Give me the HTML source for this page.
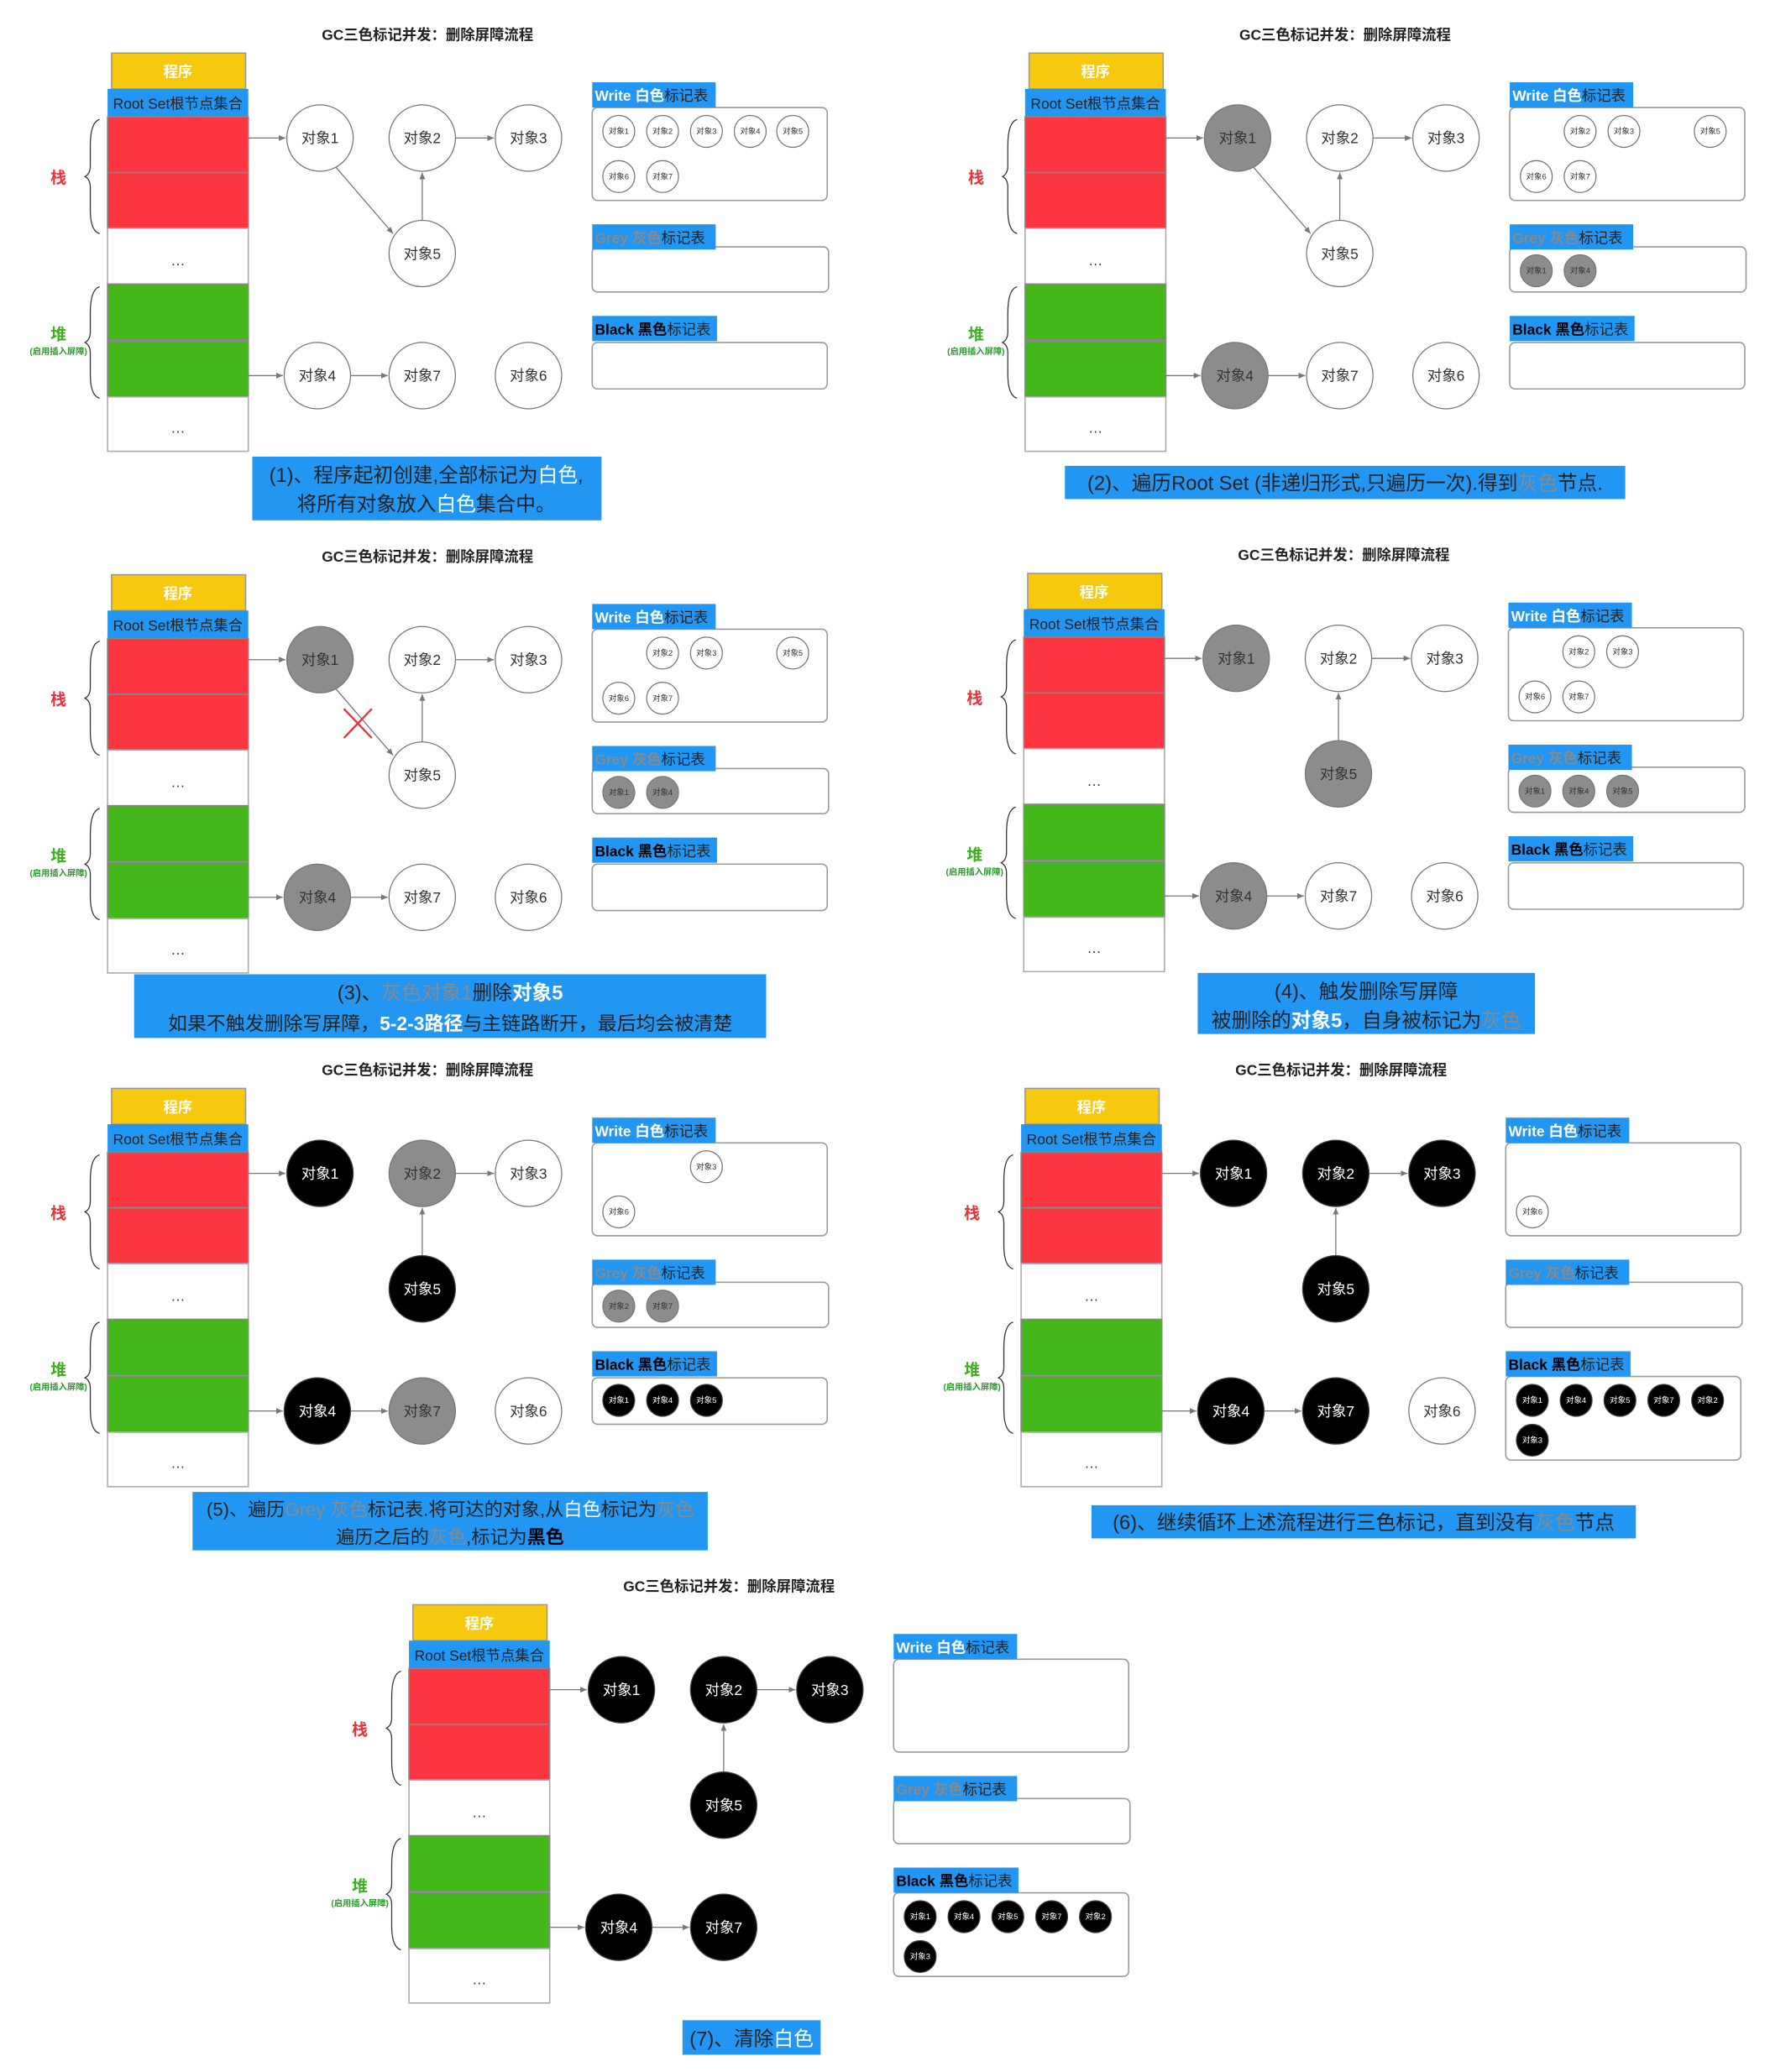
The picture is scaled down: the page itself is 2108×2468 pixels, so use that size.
<!DOCTYPE html>
<html><head><meta charset="utf-8"><style>
html,body{margin:0;padding:0;background:#fff;}
svg{display:block;font-family:"Liberation Sans","Noto Sans CJK SC",sans-serif;}
.t{font-size:11px;font-weight:bold;text-anchor:middle;fill:#222}
.n{font-size:11px;text-anchor:middle;fill:#333}
.s{font-size:6px;text-anchor:middle;fill:#333}
.w{fill:#fff;stroke:#777;stroke-width:.8}
.g{fill:#8c8c8c;stroke:#777;stroke-width:.8}
.b{fill:#000;stroke:#444;stroke-width:.8}
.wt{fill:#fff}
.e{stroke:#777;stroke-width:.8;fill:none;marker-end:url(#a)}
.box{fill:#fff;stroke:#999;stroke-width:1}
.lab{fill:#2196f3}
.lt{font-size:11px;font-weight:bold}
.cap{font-size:15px;fill:#222;text-anchor:middle}
</style></head><body>
<svg width="2108" height="2468" viewBox="0 0 1333 1561" preserveAspectRatio="none" xmlns="http://www.w3.org/2000/svg">
<defs><marker id="a" markerWidth="6" markerHeight="6" refX="5" refY="3" orient="auto" markerUnits="userSpaceOnUse"><path d="M0,0.8 L5,3 L0,5.2z" fill="#777"/></marker></defs>

<!-- PANEL 1 -->
<g>
<text class="t" x="322" y="30">GC三色标记并发：删除屏障流程</text>
<rect x="84" y="40" width="101" height="27" fill="#f6c90e" stroke="#999"/><text class="t" x="134" y="58" style="fill:#fff">程序</text>
<rect x="81" y="67" width="106" height="21" fill="#2196f3"/><text x="134" y="82" style="font-size:11px;text-anchor:middle;fill:#222">Root Set根节点集合</text>
<rect x="81" y="88" width="106" height="42" fill="#fb3640" stroke="#888"/><rect x="81" y="130" width="106" height="42" fill="#fb3640" stroke="#888"/>
<rect x="81" y="172" width="106" height="42" fill="#fff" stroke="#aaa"/><text x="134" y="200" class="n">…</text>
<rect x="81" y="214" width="106" height="42" fill="#44b81a" stroke="#888"/><rect x="81" y="257" width="106" height="42" fill="#44b81a" stroke="#888"/>
<rect x="81" y="299" width="106" height="41" fill="#fff" stroke="#aaa"/><text x="134" y="326" class="n">…</text>
<path d="M75,90 Q68,92 68,110 L68,125 Q68,131 64,133 Q68,135 68,141 L68,158 Q68,174 75,176" stroke="#333" fill="none" stroke-width=".8"/>
<path d="M75,216 Q68,218 68,236 L68,250 Q68,256 64,258 Q68,260 68,266 L68,282 Q68,298 75,300" stroke="#333" fill="none" stroke-width=".8"/>
<text x="44" y="138" style="font-size:12px;font-weight:bold;fill:#e8343c;text-anchor:middle">栈</text>
<text x="44" y="256" style="font-size:12px;font-weight:bold;fill:#3cb01d;text-anchor:middle">堆</text>
<text x="44" y="267" style="font-size:6.5px;font-weight:bold;fill:#2a9a2a;text-anchor:middle">(启用插入屏障)</text>
<line class="e" x1="187" y1="104" x2="215" y2="104"/><line class="e" x1="253" y1="126" x2="296" y2="176"/><line class="e" x1="318" y1="166" x2="318" y2="130"/><line class="e" x1="343" y1="104" x2="372" y2="104"/><line class="e" x1="187" y1="283" x2="213" y2="283"/><line class="e" x1="264" y1="283" x2="292" y2="283"/>
<circle class="w" cx="241" cy="104" r="25"/><text class="n" x="241" y="108">对象1</text>
<circle class="w" cx="318" cy="104" r="25"/><text class="n" x="318" y="108">对象2</text>
<circle class="w" cx="398" cy="104" r="25"/><text class="n" x="398" y="108">对象3</text>
<circle class="w" cx="318" cy="191" r="25"/><text class="n" x="318" y="195">对象5</text>
<circle class="w" cx="239" cy="283" r="25"/><text class="n" x="239" y="287">对象4</text>
<circle class="w" cx="318" cy="283" r="25"/><text class="n" x="318" y="287">对象7</text>
<circle class="w" cx="398" cy="283" r="25"/><text class="n" x="398" y="287">对象6</text>
<rect class="box" x="446" y="81" width="177" height="70" rx="4"/><rect class="lab" x="446" y="62" width="93" height="19"/><text class="lt" x="448" y="76"><tspan fill="#fff">Write 白色</tspan><tspan fill="#222" font-weight="normal">标记表</tspan></text>
<rect class="box" x="446" y="186" width="178" height="34" rx="4"/><rect class="lab" x="446" y="169" width="93" height="19"/><text class="lt" x="448" y="183"><tspan fill="#8a8a8a">Grey 灰色</tspan><tspan fill="#222" font-weight="normal">标记表</tspan></text>
<rect class="box" x="446" y="258" width="177" height="35" rx="4"/><rect class="lab" x="446" y="238" width="94" height="19"/><text class="lt" x="448" y="252"><tspan fill="#000">Black 黑色</tspan><tspan fill="#222" font-weight="normal">标记表</tspan></text>
<circle class="w" cx="466" cy="99" r="12"/><text class="s" x="466" y="101">对象1</text>
<circle class="w" cx="499" cy="99" r="12"/><text class="s" x="499" y="101">对象2</text>
<circle class="w" cx="532" cy="99" r="12"/><text class="s" x="532" y="101">对象3</text>
<circle class="w" cx="565" cy="99" r="12"/><text class="s" x="565" y="101">对象4</text>
<circle class="w" cx="597" cy="99" r="12"/><text class="s" x="597" y="101">对象5</text>
<circle class="w" cx="466" cy="133" r="12"/><text class="s" x="466" y="135">对象6</text>
<circle class="w" cx="499" cy="133" r="12"/><text class="s" x="499" y="135">对象7</text>
</g>

<!-- PANEL 2 -->
<g transform="translate(691,0)">
<text class="t" x="322" y="30">GC三色标记并发：删除屏障流程</text>
<rect x="84" y="40" width="101" height="27" fill="#f6c90e" stroke="#999"/><text class="t" x="134" y="58" style="fill:#fff">程序</text>
<rect x="81" y="67" width="106" height="21" fill="#2196f3"/><text x="134" y="82" style="font-size:11px;text-anchor:middle;fill:#222">Root Set根节点集合</text>
<rect x="81" y="88" width="106" height="42" fill="#fb3640" stroke="#888"/><rect x="81" y="130" width="106" height="42" fill="#fb3640" stroke="#888"/>
<rect x="81" y="172" width="106" height="42" fill="#fff" stroke="#aaa"/><text x="134" y="200" class="n">…</text>
<rect x="81" y="214" width="106" height="42" fill="#44b81a" stroke="#888"/><rect x="81" y="257" width="106" height="42" fill="#44b81a" stroke="#888"/>
<rect x="81" y="299" width="106" height="41" fill="#fff" stroke="#aaa"/><text x="134" y="326" class="n">…</text>
<path d="M75,90 Q68,92 68,110 L68,125 Q68,131 64,133 Q68,135 68,141 L68,158 Q68,174 75,176" stroke="#333" fill="none" stroke-width=".8"/>
<path d="M75,216 Q68,218 68,236 L68,250 Q68,256 64,258 Q68,260 68,266 L68,282 Q68,298 75,300" stroke="#333" fill="none" stroke-width=".8"/>
<text x="44" y="138" style="font-size:12px;font-weight:bold;fill:#e8343c;text-anchor:middle">栈</text>
<text x="44" y="256" style="font-size:12px;font-weight:bold;fill:#3cb01d;text-anchor:middle">堆</text>
<text x="44" y="267" style="font-size:6.5px;font-weight:bold;fill:#2a9a2a;text-anchor:middle">(启用插入屏障)</text>
<line class="e" x1="187" y1="104" x2="215" y2="104"/><line class="e" x1="253" y1="126" x2="296" y2="176"/><line class="e" x1="318" y1="166" x2="318" y2="130"/><line class="e" x1="343" y1="104" x2="372" y2="104"/><line class="e" x1="187" y1="283" x2="213" y2="283"/><line class="e" x1="264" y1="283" x2="292" y2="283"/>
<circle class="g" cx="241" cy="104" r="25"/><text class="n" x="241" y="108">对象1</text>
<circle class="w" cx="318" cy="104" r="25"/><text class="n" x="318" y="108">对象2</text>
<circle class="w" cx="398" cy="104" r="25"/><text class="n" x="398" y="108">对象3</text>
<circle class="w" cx="318" cy="191" r="25"/><text class="n" x="318" y="195">对象5</text>
<circle class="g" cx="239" cy="283" r="25"/><text class="n" x="239" y="287">对象4</text>
<circle class="w" cx="318" cy="283" r="25"/><text class="n" x="318" y="287">对象7</text>
<circle class="w" cx="398" cy="283" r="25"/><text class="n" x="398" y="287">对象6</text>
<rect class="box" x="446" y="81" width="177" height="70" rx="4"/><rect class="lab" x="446" y="62" width="93" height="19"/><text class="lt" x="448" y="76"><tspan fill="#fff">Write 白色</tspan><tspan fill="#222" font-weight="normal">标记表</tspan></text>
<rect class="box" x="446" y="186" width="178" height="34" rx="4"/><rect class="lab" x="446" y="169" width="93" height="19"/><text class="lt" x="448" y="183"><tspan fill="#8a8a8a">Grey 灰色</tspan><tspan fill="#222" font-weight="normal">标记表</tspan></text>
<rect class="box" x="446" y="258" width="177" height="35" rx="4"/><rect class="lab" x="446" y="238" width="94" height="19"/><text class="lt" x="448" y="252"><tspan fill="#000">Black 黑色</tspan><tspan fill="#222" font-weight="normal">标记表</tspan></text>
<circle class="w" cx="499" cy="99" r="12"/><text class="s" x="499" y="101">对象2</text>
<circle class="w" cx="532" cy="99" r="12"/><text class="s" x="532" y="101">对象3</text>
<circle class="w" cx="597" cy="99" r="12"/><text class="s" x="597" y="101">对象5</text>
<circle class="w" cx="466" cy="133" r="12"/><text class="s" x="466" y="135">对象6</text>
<circle class="w" cx="499" cy="133" r="12"/><text class="s" x="499" y="135">对象7</text>
<circle class="g" cx="466" cy="204" r="12"/><text class="s" x="466" y="206">对象1</text>
<circle class="g" cx="499" cy="204" r="12"/><text class="s" x="499" y="206">对象4</text>
</g>

<!-- PANEL 3 -->
<g transform="translate(0,393)">
<text class="t" x="322" y="30">GC三色标记并发：删除屏障流程</text>
<rect x="84" y="40" width="101" height="27" fill="#f6c90e" stroke="#999"/><text class="t" x="134" y="58" style="fill:#fff">程序</text>
<rect x="81" y="67" width="106" height="21" fill="#2196f3"/><text x="134" y="82" style="font-size:11px;text-anchor:middle;fill:#222">Root Set根节点集合</text>
<rect x="81" y="88" width="106" height="42" fill="#fb3640" stroke="#888"/><rect x="81" y="130" width="106" height="42" fill="#fb3640" stroke="#888"/>
<rect x="81" y="172" width="106" height="42" fill="#fff" stroke="#aaa"/><text x="134" y="200" class="n">…</text>
<rect x="81" y="214" width="106" height="42" fill="#44b81a" stroke="#888"/><rect x="81" y="257" width="106" height="42" fill="#44b81a" stroke="#888"/>
<rect x="81" y="299" width="106" height="41" fill="#fff" stroke="#aaa"/><text x="134" y="326" class="n">…</text>
<path d="M75,90 Q68,92 68,110 L68,125 Q68,131 64,133 Q68,135 68,141 L68,158 Q68,174 75,176" stroke="#333" fill="none" stroke-width=".8"/>
<path d="M75,216 Q68,218 68,236 L68,250 Q68,256 64,258 Q68,260 68,266 L68,282 Q68,298 75,300" stroke="#333" fill="none" stroke-width=".8"/>
<text x="44" y="138" style="font-size:12px;font-weight:bold;fill:#e8343c;text-anchor:middle">栈</text>
<text x="44" y="256" style="font-size:12px;font-weight:bold;fill:#3cb01d;text-anchor:middle">堆</text>
<text x="44" y="267" style="font-size:6.5px;font-weight:bold;fill:#2a9a2a;text-anchor:middle">(启用插入屏障)</text>
<line class="e" x1="187" y1="104" x2="215" y2="104"/><line class="e" x1="253" y1="126" x2="296" y2="176"/><line class="e" x1="318" y1="166" x2="318" y2="130"/><line class="e" x1="343" y1="104" x2="372" y2="104"/><line class="e" x1="187" y1="283" x2="213" y2="283"/><line class="e" x1="264" y1="283" x2="292" y2="283"/>
<path d="M259,141 L280,163 M280,141 L259,163" stroke="#e8343c" stroke-width="1.5"/>
<circle class="g" cx="241" cy="104" r="25"/><text class="n" x="241" y="108">对象1</text>
<circle class="w" cx="318" cy="104" r="25"/><text class="n" x="318" y="108">对象2</text>
<circle class="w" cx="398" cy="104" r="25"/><text class="n" x="398" y="108">对象3</text>
<circle class="w" cx="318" cy="191" r="25"/><text class="n" x="318" y="195">对象5</text>
<circle class="g" cx="239" cy="283" r="25"/><text class="n" x="239" y="287">对象4</text>
<circle class="w" cx="318" cy="283" r="25"/><text class="n" x="318" y="287">对象7</text>
<circle class="w" cx="398" cy="283" r="25"/><text class="n" x="398" y="287">对象6</text>
<rect class="box" x="446" y="81" width="177" height="70" rx="4"/><rect class="lab" x="446" y="62" width="93" height="19"/><text class="lt" x="448" y="76"><tspan fill="#fff">Write 白色</tspan><tspan fill="#222" font-weight="normal">标记表</tspan></text>
<rect class="box" x="446" y="186" width="178" height="34" rx="4"/><rect class="lab" x="446" y="169" width="93" height="19"/><text class="lt" x="448" y="183"><tspan fill="#8a8a8a">Grey 灰色</tspan><tspan fill="#222" font-weight="normal">标记表</tspan></text>
<rect class="box" x="446" y="258" width="177" height="35" rx="4"/><rect class="lab" x="446" y="238" width="94" height="19"/><text class="lt" x="448" y="252"><tspan fill="#000">Black 黑色</tspan><tspan fill="#222" font-weight="normal">标记表</tspan></text>
<circle class="w" cx="499" cy="99" r="12"/><text class="s" x="499" y="101">对象2</text>
<circle class="w" cx="532" cy="99" r="12"/><text class="s" x="532" y="101">对象3</text>
<circle class="w" cx="597" cy="99" r="12"/><text class="s" x="597" y="101">对象5</text>
<circle class="w" cx="466" cy="133" r="12"/><text class="s" x="466" y="135">对象6</text>
<circle class="w" cx="499" cy="133" r="12"/><text class="s" x="499" y="135">对象7</text>
<circle class="g" cx="466" cy="204" r="12"/><text class="s" x="466" y="206">对象1</text>
<circle class="g" cx="499" cy="204" r="12"/><text class="s" x="499" y="206">对象4</text>
</g>

<!-- PANEL 4 -->
<g transform="translate(690,392)">
<text class="t" x="322" y="30">GC三色标记并发：删除屏障流程</text>
<rect x="84" y="40" width="101" height="27" fill="#f6c90e" stroke="#999"/><text class="t" x="134" y="58" style="fill:#fff">程序</text>
<rect x="81" y="67" width="106" height="21" fill="#2196f3"/><text x="134" y="82" style="font-size:11px;text-anchor:middle;fill:#222">Root Set根节点集合</text>
<rect x="81" y="88" width="106" height="42" fill="#fb3640" stroke="#888"/><rect x="81" y="130" width="106" height="42" fill="#fb3640" stroke="#888"/>
<rect x="81" y="172" width="106" height="42" fill="#fff" stroke="#aaa"/><text x="134" y="200" class="n">…</text>
<rect x="81" y="214" width="106" height="42" fill="#44b81a" stroke="#888"/><rect x="81" y="257" width="106" height="42" fill="#44b81a" stroke="#888"/>
<rect x="81" y="299" width="106" height="41" fill="#fff" stroke="#aaa"/><text x="134" y="326" class="n">…</text>
<path d="M75,90 Q68,92 68,110 L68,125 Q68,131 64,133 Q68,135 68,141 L68,158 Q68,174 75,176" stroke="#333" fill="none" stroke-width=".8"/>
<path d="M75,216 Q68,218 68,236 L68,250 Q68,256 64,258 Q68,260 68,266 L68,282 Q68,298 75,300" stroke="#333" fill="none" stroke-width=".8"/>
<text x="44" y="138" style="font-size:12px;font-weight:bold;fill:#e8343c;text-anchor:middle">栈</text>
<text x="44" y="256" style="font-size:12px;font-weight:bold;fill:#3cb01d;text-anchor:middle">堆</text>
<text x="44" y="267" style="font-size:6.5px;font-weight:bold;fill:#2a9a2a;text-anchor:middle">(启用插入屏障)</text>
<line class="e" x1="187" y1="104" x2="215" y2="104"/><line class="e" x1="318" y1="166" x2="318" y2="130"/><line class="e" x1="343" y1="104" x2="372" y2="104"/><line class="e" x1="187" y1="283" x2="213" y2="283"/><line class="e" x1="264" y1="283" x2="292" y2="283"/>
<circle class="g" cx="241" cy="104" r="25"/><text class="n" x="241" y="108">对象1</text>
<circle class="w" cx="318" cy="104" r="25"/><text class="n" x="318" y="108">对象2</text>
<circle class="w" cx="398" cy="104" r="25"/><text class="n" x="398" y="108">对象3</text>
<circle class="g" cx="318" cy="191" r="25"/><text class="n" x="318" y="195">对象5</text>
<circle class="g" cx="239" cy="283" r="25"/><text class="n" x="239" y="287">对象4</text>
<circle class="w" cx="318" cy="283" r="25"/><text class="n" x="318" y="287">对象7</text>
<circle class="w" cx="398" cy="283" r="25"/><text class="n" x="398" y="287">对象6</text>
<rect class="box" x="446" y="81" width="177" height="70" rx="4"/><rect class="lab" x="446" y="62" width="93" height="19"/><text class="lt" x="448" y="76"><tspan fill="#fff">Write 白色</tspan><tspan fill="#222" font-weight="normal">标记表</tspan></text>
<rect class="box" x="446" y="186" width="178" height="34" rx="4"/><rect class="lab" x="446" y="169" width="93" height="19"/><text class="lt" x="448" y="183"><tspan fill="#8a8a8a">Grey 灰色</tspan><tspan fill="#222" font-weight="normal">标记表</tspan></text>
<rect class="box" x="446" y="258" width="177" height="35" rx="4"/><rect class="lab" x="446" y="238" width="94" height="19"/><text class="lt" x="448" y="252"><tspan fill="#000">Black 黑色</tspan><tspan fill="#222" font-weight="normal">标记表</tspan></text>
<circle class="w" cx="499" cy="99" r="12"/><text class="s" x="499" y="101">对象2</text>
<circle class="w" cx="532" cy="99" r="12"/><text class="s" x="532" y="101">对象3</text>
<circle class="w" cx="466" cy="133" r="12"/><text class="s" x="466" y="135">对象6</text>
<circle class="w" cx="499" cy="133" r="12"/><text class="s" x="499" y="135">对象7</text>
<circle class="g" cx="466" cy="204" r="12"/><text class="s" x="466" y="206">对象1</text>
<circle class="g" cx="499" cy="204" r="12"/><text class="s" x="499" y="206">对象4</text>
<circle class="g" cx="532" cy="204" r="12"/><text class="s" x="532" y="206">对象5</text>
</g>

<!-- PANEL 5 -->
<g transform="translate(0,780)">
<text class="t" x="322" y="30">GC三色标记并发：删除屏障流程</text>
<rect x="84" y="40" width="101" height="27" fill="#f6c90e" stroke="#999"/><text class="t" x="134" y="58" style="fill:#fff">程序</text>
<rect x="81" y="67" width="106" height="21" fill="#2196f3"/><text x="134" y="82" style="font-size:11px;text-anchor:middle;fill:#222">Root Set根节点集合</text>
<rect x="81" y="88" width="106" height="42" fill="#fb3640" stroke="#888"/><rect x="81" y="130" width="106" height="42" fill="#fb3640" stroke="#888"/>
<rect x="81" y="172" width="106" height="42" fill="#fff" stroke="#aaa"/><text x="134" y="200" class="n">…</text>
<rect x="81" y="214" width="106" height="42" fill="#44b81a" stroke="#888"/><rect x="81" y="257" width="106" height="42" fill="#44b81a" stroke="#888"/>
<rect x="81" y="299" width="106" height="41" fill="#fff" stroke="#aaa"/><text x="134" y="326" class="n">…</text>
<path d="M75,90 Q68,92 68,110 L68,125 Q68,131 64,133 Q68,135 68,141 L68,158 Q68,174 75,176" stroke="#333" fill="none" stroke-width=".8"/>
<path d="M75,216 Q68,218 68,236 L68,250 Q68,256 64,258 Q68,260 68,266 L68,282 Q68,298 75,300" stroke="#333" fill="none" stroke-width=".8"/>
<text x="44" y="138" style="font-size:12px;font-weight:bold;fill:#e8343c;text-anchor:middle">栈</text>
<text x="44" y="256" style="font-size:12px;font-weight:bold;fill:#3cb01d;text-anchor:middle">堆</text>
<text x="44" y="267" style="font-size:6.5px;font-weight:bold;fill:#2a9a2a;text-anchor:middle">(启用插入屏障)</text>
<line class="e" x1="187" y1="104" x2="215" y2="104"/><line class="e" x1="318" y1="166" x2="318" y2="130"/><line class="e" x1="343" y1="104" x2="372" y2="104"/><line class="e" x1="187" y1="283" x2="213" y2="283"/><line class="e" x1="264" y1="283" x2="292" y2="283"/>
<circle class="b" cx="241" cy="104" r="25"/><text class="n wt" x="241" y="108">对象1</text>
<circle class="g" cx="318" cy="104" r="25"/><text class="n" x="318" y="108">对象2</text>
<circle class="w" cx="398" cy="104" r="25"/><text class="n" x="398" y="108">对象3</text>
<circle class="b" cx="318" cy="191" r="25"/><text class="n wt" x="318" y="195">对象5</text>
<circle class="b" cx="239" cy="283" r="25"/><text class="n wt" x="239" y="287">对象4</text>
<circle class="g" cx="318" cy="283" r="25"/><text class="n" x="318" y="287">对象7</text>
<circle class="w" cx="398" cy="283" r="25"/><text class="n" x="398" y="287">对象6</text>
<rect class="box" x="446" y="81" width="177" height="70" rx="4"/><rect class="lab" x="446" y="62" width="93" height="19"/><text class="lt" x="448" y="76"><tspan fill="#fff">Write 白色</tspan><tspan fill="#222" font-weight="normal">标记表</tspan></text>
<rect class="box" x="446" y="186" width="178" height="34" rx="4"/><rect class="lab" x="446" y="169" width="93" height="19"/><text class="lt" x="448" y="183"><tspan fill="#8a8a8a">Grey 灰色</tspan><tspan fill="#222" font-weight="normal">标记表</tspan></text>
<rect class="box" x="446" y="258" width="177" height="35" rx="4"/><rect class="lab" x="446" y="238" width="94" height="19"/><text class="lt" x="448" y="252"><tspan fill="#000">Black 黑色</tspan><tspan fill="#222" font-weight="normal">标记表</tspan></text>
<circle class="w" cx="532" cy="99" r="12"/><text class="s" x="532" y="101">对象3</text>
<circle class="w" cx="466" cy="133" r="12"/><text class="s" x="466" y="135">对象6</text>
<circle class="g" cx="466" cy="204" r="12"/><text class="s" x="466" y="206">对象2</text>
<circle class="g" cx="499" cy="204" r="12"/><text class="s" x="499" y="206">对象7</text>
<circle class="b" cx="466" cy="275" r="12"/><text class="s wt" x="466" y="277">对象1</text>
<circle class="b" cx="499" cy="275" r="12"/><text class="s wt" x="499" y="277">对象4</text>
<circle class="b" cx="532" cy="275" r="12"/><text class="s wt" x="532" y="277">对象5</text>
</g>

<!-- PANEL 6 -->
<g transform="translate(688,780)">
<text class="t" x="322" y="30">GC三色标记并发：删除屏障流程</text>
<rect x="84" y="40" width="101" height="27" fill="#f6c90e" stroke="#999"/><text class="t" x="134" y="58" style="fill:#fff">程序</text>
<rect x="81" y="67" width="106" height="21" fill="#2196f3"/><text x="134" y="82" style="font-size:11px;text-anchor:middle;fill:#222">Root Set根节点集合</text>
<rect x="81" y="88" width="106" height="42" fill="#fb3640" stroke="#888"/><rect x="81" y="130" width="106" height="42" fill="#fb3640" stroke="#888"/>
<rect x="81" y="172" width="106" height="42" fill="#fff" stroke="#aaa"/><text x="134" y="200" class="n">…</text>
<rect x="81" y="214" width="106" height="42" fill="#44b81a" stroke="#888"/><rect x="81" y="257" width="106" height="42" fill="#44b81a" stroke="#888"/>
<rect x="81" y="299" width="106" height="41" fill="#fff" stroke="#aaa"/><text x="134" y="326" class="n">…</text>
<path d="M75,90 Q68,92 68,110 L68,125 Q68,131 64,133 Q68,135 68,141 L68,158 Q68,174 75,176" stroke="#333" fill="none" stroke-width=".8"/>
<path d="M75,216 Q68,218 68,236 L68,250 Q68,256 64,258 Q68,260 68,266 L68,282 Q68,298 75,300" stroke="#333" fill="none" stroke-width=".8"/>
<text x="44" y="138" style="font-size:12px;font-weight:bold;fill:#e8343c;text-anchor:middle">栈</text>
<text x="44" y="256" style="font-size:12px;font-weight:bold;fill:#3cb01d;text-anchor:middle">堆</text>
<text x="44" y="267" style="font-size:6.5px;font-weight:bold;fill:#2a9a2a;text-anchor:middle">(启用插入屏障)</text>
<line class="e" x1="187" y1="104" x2="215" y2="104"/><line class="e" x1="318" y1="166" x2="318" y2="130"/><line class="e" x1="343" y1="104" x2="372" y2="104"/><line class="e" x1="187" y1="283" x2="213" y2="283"/><line class="e" x1="264" y1="283" x2="292" y2="283"/>
<circle class="b" cx="241" cy="104" r="25"/><text class="n wt" x="241" y="108">对象1</text>
<circle class="b" cx="318" cy="104" r="25"/><text class="n wt" x="318" y="108">对象2</text>
<circle class="b" cx="398" cy="104" r="25"/><text class="n wt" x="398" y="108">对象3</text>
<circle class="b" cx="318" cy="191" r="25"/><text class="n wt" x="318" y="195">对象5</text>
<circle class="b" cx="239" cy="283" r="25"/><text class="n wt" x="239" y="287">对象4</text>
<circle class="b" cx="318" cy="283" r="25"/><text class="n wt" x="318" y="287">对象7</text>
<circle class="w" cx="398" cy="283" r="25"/><text class="n" x="398" y="287">对象6</text>
<rect class="box" x="446" y="81" width="177" height="70" rx="4"/><rect class="lab" x="446" y="62" width="93" height="19"/><text class="lt" x="448" y="76"><tspan fill="#fff">Write 白色</tspan><tspan fill="#222" font-weight="normal">标记表</tspan></text>
<rect class="box" x="446" y="186" width="178" height="34" rx="4"/><rect class="lab" x="446" y="169" width="93" height="19"/><text class="lt" x="448" y="183"><tspan fill="#8a8a8a">Grey 灰色</tspan><tspan fill="#222" font-weight="normal">标记表</tspan></text>
<rect class="box" x="446" y="257" width="177" height="63" rx="4"/><rect class="lab" x="446" y="238" width="94" height="19"/><text class="lt" x="448" y="252"><tspan fill="#000">Black 黑色</tspan><tspan fill="#222" font-weight="normal">标记表</tspan></text>
<circle class="w" cx="466" cy="133" r="12"/><text class="s" x="466" y="135">对象6</text>
<circle class="b" cx="466" cy="275" r="12"/><text class="s wt" x="466" y="277">对象1</text>
<circle class="b" cx="499" cy="275" r="12"/><text class="s wt" x="499" y="277">对象4</text>
<circle class="b" cx="532" cy="275" r="12"/><text class="s wt" x="532" y="277">对象5</text>
<circle class="b" cx="565" cy="275" r="12"/><text class="s wt" x="565" y="277">对象7</text>
<circle class="b" cx="598" cy="275" r="12"/><text class="s wt" x="598" y="277">对象2</text>
<circle class="b" cx="466" cy="305" r="12"/><text class="s wt" x="466" y="307">对象3</text>
</g>

<!-- PANEL 7 -->
<g transform="translate(227,1169)">
<text class="t" x="322" y="30">GC三色标记并发：删除屏障流程</text>
<rect x="84" y="40" width="101" height="27" fill="#f6c90e" stroke="#999"/><text class="t" x="134" y="58" style="fill:#fff">程序</text>
<rect x="81" y="67" width="106" height="21" fill="#2196f3"/><text x="134" y="82" style="font-size:11px;text-anchor:middle;fill:#222">Root Set根节点集合</text>
<rect x="81" y="88" width="106" height="42" fill="#fb3640" stroke="#888"/><rect x="81" y="130" width="106" height="42" fill="#fb3640" stroke="#888"/>
<rect x="81" y="172" width="106" height="42" fill="#fff" stroke="#aaa"/><text x="134" y="200" class="n">…</text>
<rect x="81" y="214" width="106" height="42" fill="#44b81a" stroke="#888"/><rect x="81" y="257" width="106" height="42" fill="#44b81a" stroke="#888"/>
<rect x="81" y="299" width="106" height="41" fill="#fff" stroke="#aaa"/><text x="134" y="326" class="n">…</text>
<path d="M75,90 Q68,92 68,110 L68,125 Q68,131 64,133 Q68,135 68,141 L68,158 Q68,174 75,176" stroke="#333" fill="none" stroke-width=".8"/>
<path d="M75,216 Q68,218 68,236 L68,250 Q68,256 64,258 Q68,260 68,266 L68,282 Q68,298 75,300" stroke="#333" fill="none" stroke-width=".8"/>
<text x="44" y="138" style="font-size:12px;font-weight:bold;fill:#e8343c;text-anchor:middle">栈</text>
<text x="44" y="256" style="font-size:12px;font-weight:bold;fill:#3cb01d;text-anchor:middle">堆</text>
<text x="44" y="267" style="font-size:6.5px;font-weight:bold;fill:#2a9a2a;text-anchor:middle">(启用插入屏障)</text>
<line class="e" x1="187" y1="104" x2="215" y2="104"/><line class="e" x1="318" y1="166" x2="318" y2="130"/><line class="e" x1="343" y1="104" x2="372" y2="104"/><line class="e" x1="187" y1="283" x2="213" y2="283"/><line class="e" x1="264" y1="283" x2="292" y2="283"/>
<circle class="b" cx="241" cy="104" r="25"/><text class="n wt" x="241" y="108">对象1</text>
<circle class="b" cx="318" cy="104" r="25"/><text class="n wt" x="318" y="108">对象2</text>
<circle class="b" cx="398" cy="104" r="25"/><text class="n wt" x="398" y="108">对象3</text>
<circle class="b" cx="318" cy="191" r="25"/><text class="n wt" x="318" y="195">对象5</text>
<circle class="b" cx="239" cy="283" r="25"/><text class="n wt" x="239" y="287">对象4</text>
<circle class="b" cx="318" cy="283" r="25"/><text class="n wt" x="318" y="287">对象7</text>
<rect class="box" x="446" y="81" width="177" height="70" rx="4"/><rect class="lab" x="446" y="62" width="93" height="19"/><text class="lt" x="448" y="76"><tspan fill="#fff">Write 白色</tspan><tspan fill="#222" font-weight="normal">标记表</tspan></text>
<rect class="box" x="446" y="186" width="178" height="34" rx="4"/><rect class="lab" x="446" y="169" width="93" height="19"/><text class="lt" x="448" y="183"><tspan fill="#8a8a8a">Grey 灰色</tspan><tspan fill="#222" font-weight="normal">标记表</tspan></text>
<rect class="box" x="446" y="257" width="177" height="63" rx="4"/><rect class="lab" x="446" y="238" width="94" height="19"/><text class="lt" x="448" y="252"><tspan fill="#000">Black 黑色</tspan><tspan fill="#222" font-weight="normal">标记表</tspan></text>
<circle class="b" cx="466" cy="275" r="12"/><text class="s wt" x="466" y="277">对象1</text>
<circle class="b" cx="499" cy="275" r="12"/><text class="s wt" x="499" y="277">对象4</text>
<circle class="b" cx="532" cy="275" r="12"/><text class="s wt" x="532" y="277">对象5</text>
<circle class="b" cx="565" cy="275" r="12"/><text class="s wt" x="565" y="277">对象7</text>
<circle class="b" cx="598" cy="275" r="12"/><text class="s wt" x="598" y="277">对象2</text>
<circle class="b" cx="466" cy="305" r="12"/><text class="s wt" x="466" y="307">对象3</text>
</g>

<!-- CAPTIONS -->
<rect x="190" y="344" width="263" height="48" fill="#2196f3"/>
<text class="cap" x="321" y="363">(1)、程序起初创建,全部标记为<tspan fill="#fff">白色</tspan>,</text>
<text class="cap" x="321" y="385">将所有对象放入<tspan fill="#fff">白色</tspan>集合中。</text>

<rect x="802" y="351" width="422" height="25" fill="#2196f3"/>
<text class="cap" x="1013" y="369">(2)、遍历Root Set (非递归形式,只遍历一次).得到<tspan fill="#8a8a8a">灰色</tspan>节点.</text>

<rect x="101" y="734" width="476" height="48" fill="#2196f3"/>
<text class="cap" x="339" y="753">(3)、<tspan fill="#8a8a8a">灰色对象1</tspan>删除<tspan fill="#fff" font-weight="bold">对象5</tspan></text>
<text class="cap" x="339" y="776" style="font-size:14.5px">如果不触发删除写屏障，<tspan fill="#fff" font-weight="bold">5-2-3路径</tspan>与主链路断开，最后均会被清楚</text>

<rect x="902" y="733" width="254" height="46" fill="#2196f3"/>
<text class="cap" x="1029" y="752">(4)、触发删除写屏障</text>
<text class="cap" x="1029" y="774">被删除的<tspan fill="#fff" font-weight="bold">对象5</tspan>，自身被标记为<tspan fill="#8a8a8a">灰色</tspan></text>

<rect x="145" y="1124" width="388" height="44" fill="#2196f3"/>
<text class="cap" x="339" y="1142" style="font-size:14px">(5)、遍历<tspan fill="#8a8a8a">Grey 灰色</tspan>标记表.将可达的对象,从<tspan fill="#fff">白色</tspan>标记为<tspan fill="#8a8a8a">灰色</tspan></text>
<text class="cap" x="339" y="1163" style="font-size:14px">遍历之后的<tspan fill="#8a8a8a">灰色</tspan>,标记为<tspan fill="#000" font-weight="bold">黑色</tspan></text>

<rect x="822" y="1134" width="410" height="25" fill="#2196f3"/>
<text class="cap" x="1027" y="1152">(6)、继续循环上述流程进行三色标记，直到没有<tspan fill="#8a8a8a">灰色</tspan>节点</text>

<rect x="514" y="1522" width="104" height="26" fill="#2196f3"/>
<text class="cap" x="566" y="1541">(7)、清除<tspan fill="#fff">白色</tspan></text>
</svg>
</body></html>
